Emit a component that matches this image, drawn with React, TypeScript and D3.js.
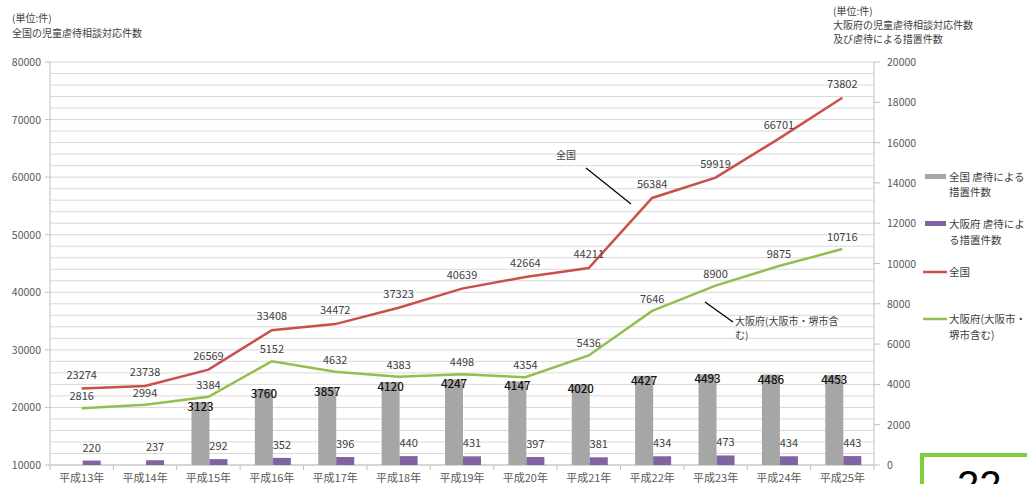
import React from "react";
import * as d3 from "d3";

const categories = ["平成13年","平成14年","平成15年","平成16年","平成17年","平成18年","平成19年","平成20年","平成21年","平成22年","平成23年","平成24年","平成25年"];
const nationalConsult = [23274,23738,26569,33408,34472,37323,40639,42664,44211,56384,59919,66701,73802];
const osakaConsult = [2816,2994,3384,5152,4632,4383,4498,4354,5436,7646,8900,9875,10716];
const nationalMeasures: (number | null)[] = [null,null,3123,3760,3857,4120,4247,4147,4020,4427,4493,4486,4453];
const osakaMeasures = [220,237,292,352,396,440,431,397,381,434,473,434,443];
const leftTicks = [10000,20000,30000,40000,50000,60000,70000,80000];
const rightTicks = [0,2000,4000,6000,8000,10000,12000,14000,16000,18000,20000];

const W = 1027, H = 484;
const L = 50, R = 874, T = 62, B = 465;
const FONT = "'Noto Sans CJK JP', 'Noto Sans', sans-serif";
const RED = "#c9504b";
const GREEN = "#93bf4e";
const GRAY = "#a6a6a6";
const PURPLE = "#8064a2";

export default function App() {
  const x = d3.scaleBand<string>().domain(categories).range([L, R]).paddingInner(0).paddingOuter(0);
  const yL = d3.scaleLinear().domain([10000, 80000]).range([B, T]);
  const yR = d3.scaleLinear().domain([0, 20000]).range([B, T]);
  const cx = (c: string) => (x(c) as number) + x.bandwidth() / 2;
  const barW = 18;

  const grid = d3.range(10000, 80001, 2000);
  const redLine = d3.line<number>().x((_, i) => cx(categories[i])).y((d) => yL(d));
  const greenLine = d3.line<number>().x((_, i) => cx(categories[i])).y((d) => yR(d));

  return (
    <svg width={W} height={H} style={{ position: "absolute", left: 0, top: 0, background: "#fff" }} fontFamily={FONT}>
      <rect x={0} y={0} width={W} height={H} fill="#fff" />
      {/* titles */}
      <g fontSize={10} fill="#404040">
        <text x={12} y={22}>(単位:件)</text>
        <text x={12} y={37}>全国の児童虐待相談対応件数</text>
        <text x={833} y={15}>(単位:件)</text>
        <text x={833} y={29}>大阪府の児童虐待相談対応件数</text>
        <text x={833} y={43}>及び虐待による措置件数</text>
      </g>
      {/* gridlines */}
      {grid.map((g) => (
        <line key={g} x1={L} x2={R} y1={yL(g)} y2={yL(g)} stroke="#d9d9d9" strokeWidth={1} />
      ))}
      {/* axes */}
      <line x1={L} x2={L} y1={T} y2={B} stroke="#bfbfbf" />
      <line x1={R} x2={R} y1={T} y2={B} stroke="#bfbfbf" />
      <line x1={L} x2={R} y1={B} y2={B} stroke="#bfbfbf" />
      {leftTicks.map((t) => (
        <g key={t}>
          <line x1={L - 5} x2={L} y1={yL(t)} y2={yL(t)} stroke="#bfbfbf" />
          <text x={41} y={yL(t) + 4} fontSize={10.5} textAnchor="end" fill="#595959">{t}</text>
        </g>
      ))}
      {rightTicks.map((t) => (
        <g key={t}>
          <line x1={R} x2={R + 6} y1={yR(t)} y2={yR(t)} stroke="#bfbfbf" />
          <text x={887} y={yR(t) + 4} fontSize={10.5} textAnchor="start" fill="#595959">{t}</text>
        </g>
      ))}
      {categories.map((c, i) => (
        <line key={"xt" + i} x1={x(c) as number} x2={x(c) as number} y1={B} y2={B + 5} stroke="#bfbfbf" />
      ))}
      <line x1={R} x2={R} y1={B} y2={B + 5} stroke="#bfbfbf" />
      {categories.map((c) => (
        <text key={"xl" + c} x={cx(c)} y={482} fontSize={11} textAnchor="middle" fill="#595959">{c}</text>
      ))}
      {/* bars */}
      {categories.map((c, i) => {
        const v = nationalMeasures[i];
        if (v == null) return null;
        return <rect key={"g" + c} x={cx(c) - barW + 1} y={yR(v)} width={barW} height={B - yR(v)} fill={GRAY} />;
      })}
      {categories.map((c, i) => (
        <rect key={"p" + c} x={cx(c) + 1} y={yR(osakaMeasures[i])} width={barW} height={B - yR(osakaMeasures[i])} fill={PURPLE} />
      ))}
      {/* lines */}
      <path d={redLine(nationalConsult) as string} fill="none" stroke={RED} strokeWidth={2.5} />
      <path d={greenLine(osakaConsult) as string} fill="none" stroke={GREEN} strokeWidth={2.5} />
      {/* labels */}
      <g fontSize={11} fill="#404040" textAnchor="middle">
        {categories.map((c, i) => (
          <text key={"rl" + c} x={cx(c)} y={yL(nationalConsult[i]) - 10}>{nationalConsult[i]}</text>
        ))}
        {categories.map((c, i) => (
          <text key={"gl" + c} x={cx(c)} y={yR(osakaConsult[i]) - 8}>{osakaConsult[i]}</text>
        ))}
        {categories.map((c, i) => (
          <text key={"pl" + c} x={cx(c) + 10} y={yR(osakaMeasures[i]) - 9}>{osakaMeasures[i]}</text>
        ))}
      </g>
      <g fontSize={11.5} fill="#111" textAnchor="middle" fontWeight={500}>
        {categories.map((c, i) => {
          const v = nationalMeasures[i];
          if (v == null) return null;
          return <text key={"nl" + c} x={cx(c) - barW / 2 + 1} y={yR(v) + 9}>{v}</text>;
        })}
      </g>
      {/* annotations */}
      <text x={556} y={159} fontSize={10} fill="#404040">全国</text>
      <line x1={586} y1={168} x2={631} y2={204} stroke="#000" strokeWidth={1.3} />
      <line x1={705} y1={302} x2={733} y2={322} stroke="#000" strokeWidth={1.3} />
      <text x={735} y={325} fontSize={10} fill="#404040">大阪府(大阪市・堺市含</text>
      <text x={735} y={339} fontSize={10} fill="#404040">む)</text>
      {/* legend */}
      <g fontSize={10.5} fill="#404040">
        <rect x={925} y={174} width={21} height={5} fill={GRAY} />
        <text x={949} y={181}>全国 虐待による</text>
        <text x={949} y={196}>措置件数</text>
        <rect x={925} y={221} width={21} height={5} fill={PURPLE} />
        <text x={949} y={228}>大阪府 虐待によ</text>
        <text x={949} y={244}>る措置件数</text>
        <line x1={923} x2={947} y1={272} y2={272} stroke={RED} strokeWidth={2.5} />
        <text x={949} y={276}>全国</text>
        <line x1={923} x2={947} y1={319} y2={319} stroke={GREEN} strokeWidth={2.5} />
        <text x={949} y={323}>大阪府(大阪市・</text>
        <text x={949} y={339}>堺市含む)</text>
      </g>
      {/* page number box */}
      <rect x={922} y={455} width={120} height={40} fill="#fff" stroke="#7ccf3a" strokeWidth={4} />
      <text x={957} y={499} fontSize={40} fill="#000" fontFamily="'Liberation Sans', sans-serif">22</text>
    </svg>
  );
}
